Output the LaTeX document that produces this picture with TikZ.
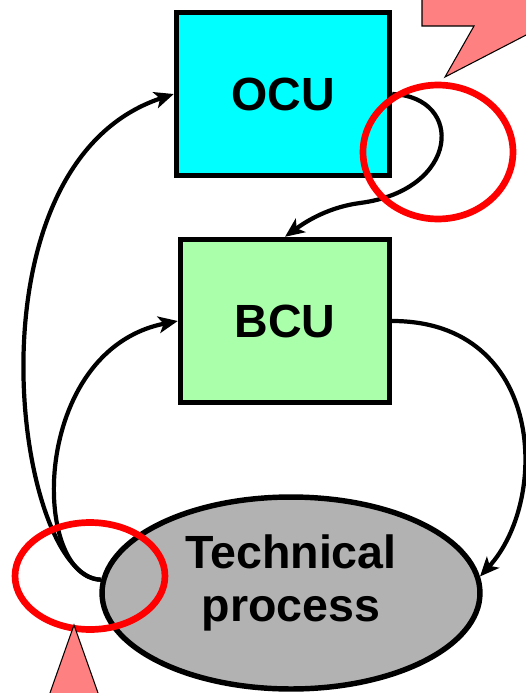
\documentclass[tikz,border=0pt]{standalone}
\usepackage{fontspec}
\setmainfont{Liberation Sans}
\usetikzlibrary{arrows.meta,shapes.geometric}
\definecolor{ocucyan}{RGB}{0,255,255}
\definecolor{bcugreen}{RGB}{170,255,170}
\definecolor{procgray}{RGB}{178,178,178}
\definecolor{calloutpink}{RGB}{255,128,128}

\begin{document}
\begin{tikzpicture}[x=0.02cm,y=-0.02cm,
  every node/.style={line width=3.1pt,inner sep=0pt,font=\fontsize{26.5}{30}\selectfont\bfseries},
  unit/.style={draw,rectangle,minimum height=3.26cm},
  link/.style={line width=2.4pt,-{Stealth[length=11pt,width=9.5pt,inset=2.8pt]}},
  ring/.style={draw=red,line width=3.8pt},
  callout/.style={draw=black,line width=0.6pt,fill=calloutpink}]
  \useasboundingbox (0,0) rectangle (526,693);

  \node[unit,fill=ocucyan,minimum width=4.26cm] (ocu) at (283,94) {OCU};
  \node[unit,fill=bcugreen,minimum width=4.18cm] (bcu) at (285,321) {BCU};
  \node[draw,ellipse,fill=procgray,minimum width=7.56cm,minimum height=3.84cm] (proc) at (291,593) {};
  \node[align=center] (proclabel) at (291,583) {Technical\\process};

  \draw[link] (proc.176) .. controls (15,578) and (-40,165) .. (ocu.west);
  \draw[link] (proc.176) .. controls (30,578) and (30,350) .. (bcu.west);
  \draw[link] (ocu.east) .. controls (465,97) and (460,190) .. (360,203)
    .. controls (330,207) and (308,220) .. (bcu.north);
  \draw[link] (bcu.east) .. controls (545,321) and (550,500) .. (proc.5);

  \draw[ring] (438,152) ellipse [x radius=1.5cm, y radius=1.34cm];
  \draw[ring] (90,576) ellipse [x radius=1.5cm, y radius=1.07cm];

  \filldraw[callout] (422,-5) -- (422,26) -- (474,26) -- (445,77) -- (530,33) -- (530,-5) -- cycle;
  \filldraw[callout] (74,625) -- (47.5,700) -- (100.5,700) -- cycle;
\end{tikzpicture}
\end{document}
